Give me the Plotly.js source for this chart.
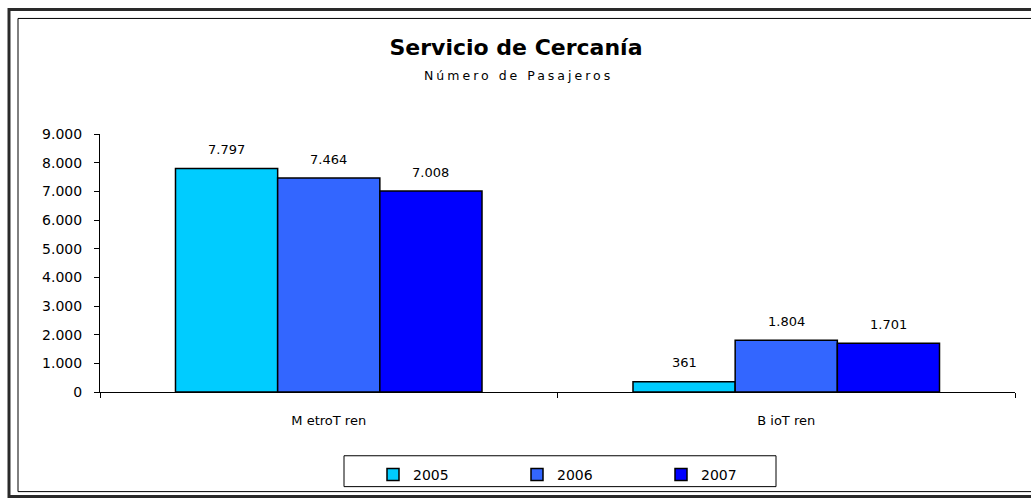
<!DOCTYPE html>
<html>
<head>
<meta charset="utf-8">
<script src="https://cdn.plot.ly/plotly-3.0.1.min.js"></script>
<style>
  html, body { margin: 0; padding: 0; background: #fff; }
  #chart { width: 1031px; height: 502px; }
</style>
</head>
<body>
<div id="chart"></div>
<script>
// data
var categories = ['M etroT ren', 'B ioT ren'];
var years      = ['2005', '2006', '2007'];
var pax2005    = [7797, 361];
var pax2006    = [7464, 1804];
var pax2007    = [7008, 1701];
var colors     = ['#00CCFF', '#3366FF', '#0000FF'];

var series = [pax2005, pax2006, pax2007];

// plot area in pixels
var L = 100, R = 1015, T = 134, B = 393;
var GAP = 0.33;
function px(x) { return (x - L) / (R - L); }
function py(y) { return (B - y) / (B - T); }

var FONT = 'DejaVu Sans';

// width of one bar in pixels, used to shift the value labels over their bars
var barPx = (1 - GAP) * (R - L) / categories.length / years.length;

// number format with dot as thousands separator
function fmt(v) { return String(v).replace(/\B(?=(\d{3})+(?!\d))/g, '.'); }

var data = [];
var labels = [];
for (var i = 0; i < years.length; i++) {
  data.push({
    type: 'bar',
    name: years[i],
    x: categories,
    y: series[i],
    marker: { color: colors[i], line: { color: '#000', width: 1.5 } },
    hoverinfo: 'none'
  });
  for (var j = 0; j < categories.length; j++) {
    labels.push({
      x: categories[j], y: series[i][j],
      xref: 'x', yref: 'y',
      text: fmt(series[i][j]),
      showarrow: false,
      xshift: (i - 1) * barPx,
      yshift: 19,
      yanchor: 'middle',
      font: { family: FONT, size: 13, color: '#000' }
    });
  }
}

labels.push({
  text: '<span style="letter-spacing:3px">Número de Pasajeros</span>',
  xref: 'paper', yref: 'paper',
  x: px(518), y: py(75), yanchor: 'middle',
  showarrow: false,
  font: { family: FONT, size: 12.5, color: '#000' }
});

var layout = {
  width: 1031,
  height: 502,
  separators: ',.',
  paper_bgcolor: '#fff',
  plot_bgcolor: '#fff',
  margin: { l: L, r: 1031 - R, t: T, b: 502 - B },
  barmode: 'group',
  bargap: GAP,
  bargroupgap: 0,
  showlegend: true,
  font: { family: FONT, size: 13, color: '#000' },
  title: {
    text: '<b>Servicio de Cercanía</b>',
    font: { family: FONT, size: 22, color: '#000' },
    x: 516 / 1031, xref: 'container', xanchor: 'center',
    y: 1 - 47 / 502, yref: 'container', yanchor: 'middle'
  },
  annotations: labels,
  xaxis: {
    type: 'category',
    range: [-0.5, 1.5],
    showline: true, linecolor: '#000', linewidth: 1,
    ticks: 'outside', tickson: 'boundaries', ticklen: 5, tickcolor: '#000',
    ticklabelstandoff: 16,
    showgrid: false, zeroline: false,
    tickfont: { family: FONT, size: 13 }
  },
  yaxis: {
    range: [0, 9000],
    dtick: 1000,
    tickformat: ',d',
    showline: true, linecolor: '#000', linewidth: 1,
    ticks: 'outside', ticklen: 5, tickcolor: '#000',
    ticklabelstandoff: 9,
    showgrid: false, zeroline: false,
    tickfont: { family: FONT, size: 14 }
  },
  legend: {
    orientation: 'h',
    x: px(373), xanchor: 'left',
    y: py(459), yanchor: 'top',
    borderwidth: 0,
    bgcolor: 'rgba(0,0,0,0)',
    entrywidth: 99, entrywidthmode: 'pixels',
    font: { family: FONT, size: 14, color: '#000' }
  },
  shapes: [
    { type: 'rect', xref: 'paper', yref: 'paper',
      x0: px(9), x1: px(1060), y0: py(9), y1: py(498),
      line: { color: '#2a2a2a', width: 3 } },
    { type: 'rect', xref: 'paper', yref: 'paper',
      x0: px(18), x1: px(1050), y0: py(18), y1: py(493),
      line: { color: '#000', width: 1 } },
    // legend frame
    { type: 'rect', xref: 'paper', yref: 'paper',
      x0: px(344), x1: px(776), y0: py(457), y1: py(488),
      line: { color: '#000', width: 1 } }
  ]
};

Plotly.newPlot('chart', data, layout, { displayModeBar: false, staticPlot: true });
</script>
</body>
</html>
